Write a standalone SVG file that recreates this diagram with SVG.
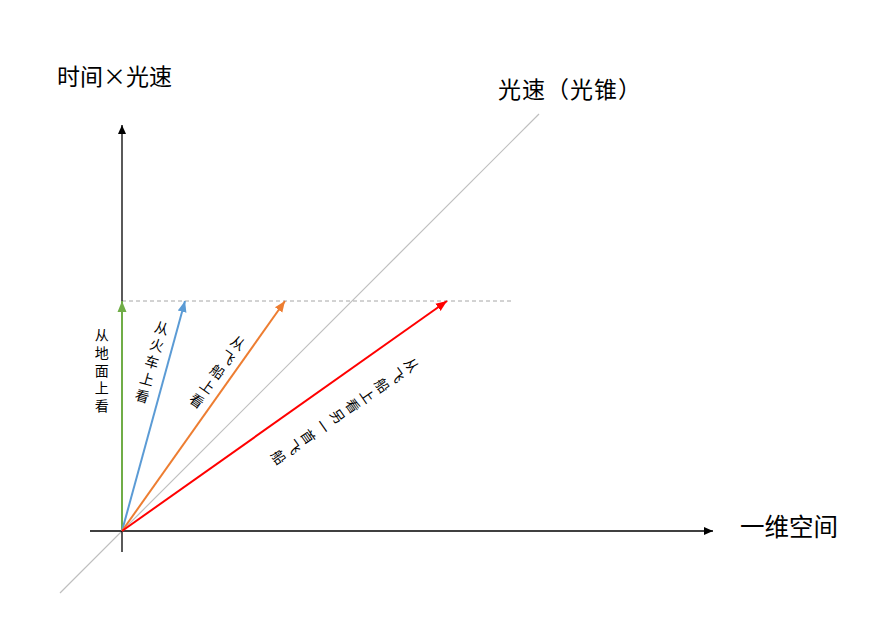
<svg xmlns="http://www.w3.org/2000/svg" width="894" height="623" viewBox="0 0 894 623">
<style>
.cjk{font-family:"Noto Sans CJK SC","Noto Sans",sans-serif;fill:#000}
.big{font-size:23px}
.lbl{font-size:14px;writing-mode:vertical-rl;letter-spacing:3.7px}
.axis{stroke:#000;stroke-width:1.3;fill:none}
</style>
<defs>
<marker id="aBlack" markerUnits="userSpaceOnUse" markerWidth="10" markerHeight="10" viewBox="0 0 10 10" refX="9" refY="5" orient="auto"><path d="M0,1 L9,5 L0,9 Z" fill="#000"/></marker>
<marker id="aGreen" markerUnits="userSpaceOnUse" markerWidth="12" markerHeight="12" viewBox="0 0 12 12" refX="11" refY="6" orient="auto"><path d="M0,1.5 L11,6 L0,10.5 Z" fill="#70AD47"/></marker>
<marker id="aBlue" markerUnits="userSpaceOnUse" markerWidth="12" markerHeight="12" viewBox="0 0 12 12" refX="11" refY="6" orient="auto"><path d="M0,1.5 L11,6 L0,10.5 Z" fill="#5B9BD5"/></marker>
<marker id="aOrange" markerUnits="userSpaceOnUse" markerWidth="12" markerHeight="12" viewBox="0 0 12 12" refX="11" refY="6" orient="auto"><path d="M0,1.5 L11,6 L0,10.5 Z" fill="#ED7D31"/></marker>
<marker id="aRed" markerUnits="userSpaceOnUse" markerWidth="12" markerHeight="12" viewBox="0 0 12 12" refX="11" refY="6" orient="auto"><path d="M0,1.5 L11,6 L0,10.5 Z" fill="#FF0000"/></marker>
</defs>
<rect width="894" height="623" fill="#fff"/>
<g id="connectors">
<line x1="60" y1="593" x2="539" y2="114" stroke="#BFBFBF" stroke-width="1.2"/>
<line x1="122" y1="301" x2="511" y2="301" stroke="#A6A6A6" stroke-width="1" stroke-dasharray="4,3"/>
<line class="axis" x1="122" y1="552" x2="122" y2="125" marker-end="url(#aBlack)"/>
<line class="axis" x1="90" y1="531" x2="713" y2="531" marker-end="url(#aBlack)"/>
<line x1="122" y1="531" x2="122" y2="301" stroke="#70AD47" stroke-width="2" marker-end="url(#aGreen)"/>
<line x1="122" y1="531" x2="185" y2="301" stroke="#5B9BD5" stroke-width="2" marker-end="url(#aBlue)"/>
<line x1="122" y1="531" x2="285" y2="301" stroke="#ED7D31" stroke-width="2" marker-end="url(#aOrange)"/>
<line x1="122" y1="531" x2="447" y2="301" stroke="#FF0000" stroke-width="2" marker-end="url(#aRed)"/>
</g>
<g id="axis-time"><text class="cjk big" x="57" y="75" dominant-baseline="central">时间×光速</text></g>
<g id="axis-space"><text class="cjk" style="font-size:24.5px" x="740" y="525.5" dominant-baseline="central">一维空间</text></g>
<g id="lightcone"><text class="cjk big" x="498" y="87.5" dominant-baseline="central" letter-spacing="1">光速（光锥）</text></g>
<g id="label-ground" transform="translate(101.7,335)">
<text class="cjk lbl" x="0" y="-7">从地面上看</text>
</g>
<g id="label-train" transform="translate(161.7,328) rotate(16)">
<text class="cjk lbl" x="0" y="-7">从火车上看</text>
</g>
<g id="label-ship" transform="translate(238,343) rotate(35.5)">
<text class="cjk lbl" x="0" y="-7">从飞船上看</text>
</g>
<g id="label-other" transform="translate(411.7,365) rotate(55.3)">
<text class="cjk lbl" x="0" y="-7" style="letter-spacing:4px">从飞船上看另一首飞船</text>
</g>
</svg>
